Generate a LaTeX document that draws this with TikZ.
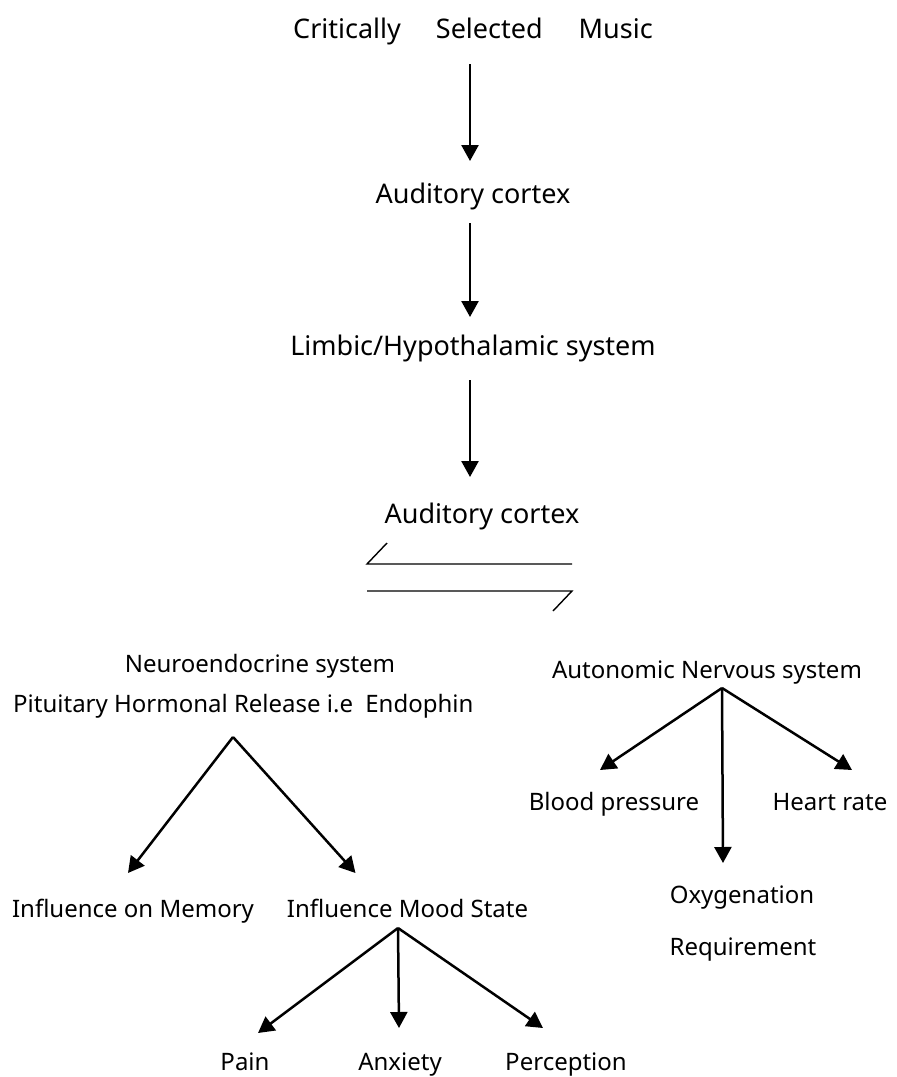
\documentclass[tikz,border=0pt]{standalone}
\usepackage{fontspec}
\setmainfont{Noto Sans}
\usetikzlibrary{arrows.meta,calc}
\tikzset{
  big/.style={inner sep=0pt, anchor=base, font=\fontsize{27}{30}\selectfont},
  small/.style={inner sep=0pt, anchor=base, font=\fontsize{24}{28}\selectfont},
  arr/.style={line width=2.5pt, -{Triangle[length=16pt,width=17pt]}},
  harp/.style={line width=1.4pt}
}
\begin{document}
\begin{tikzpicture}[x=1pt,y=-1pt]
\useasboundingbox (0,0) rectangle (897,1077);
% top chain
\node[big] (title) at (473,38) {Critically\hspace{35pt}Selected\hspace{36pt}Music};
\node[big] (cortexA) at (473,203) {Auditory cortex};
\node[big] (limbic) at (473,355) {Limbic/Hypothalamic system};
\node[big] (cortexB) at (482,523) {Auditory cortex};
\draw[arr] ($(title.base)+(-3,26)$) -- ($(cortexA.base)+(-3,-42)$);
\draw[arr] ($(cortexA.base)+(-3,20)$) -- ($(limbic.base)+(-3,-38)$);
\draw[arr] ($(limbic.base)+(-3,25)$) -- ($(cortexB.base)+(-12,-46)$);
% harpoons
\coordinate (hu1) at ($(cortexB.base)+(-95,20)$);
\coordinate (hu2) at ($(cortexB.base)+(-115,41)$);
\coordinate (hu3) at ($(cortexB.base)+(90,41)$);
\coordinate (hl1) at ($(cortexB.base)+(-115,68)$);
\coordinate (hl2) at ($(cortexB.base)+(90,68)$);
\coordinate (hl3) at ($(cortexB.base)+(71,88)$);
\draw[harp] (hu1) -- (hu2) -- (hu3);
\draw[harp] (hl1) -- (hl2) -- (hl3);
% left branch
\node[small] (neuro) at (260,672) {Neuroendocrine system};
\node[small, anchor=base west] (pit) at (13,712) {Pituitary Hormonal Release i.e\hspace{6pt} Endophin};
\node[small] (memory) at (133,917) {Influence on Memory};
\node[small] (mood) at (407.5,917) {Influence Mood State};
\coordinate (pitapex) at ($(pit.base west)+(220,25)$);
\draw[arr] (pitapex) -- ($(memory.base)+(-5,-44)$);
\draw[arr] (pitapex) -- ($(mood.base)+(-52,-44)$);
\node[small] (pain) at (245,1070) {Pain};
\node[small] (anx) at (400,1070) {Anxiety};
\node[small] (perc) at (566,1070) {Perception};
\coordinate (moodapex) at ($(mood.base)+(-9.5,11)$);
\draw[arr] (moodapex) -- ($(pain.base)+(13,-37)$);
\draw[arr] (moodapex) -- ($(anx.base)+(-1,-42)$);
\draw[arr] (moodapex) -- ($(perc.base)+(-23,-42)$);
% right branch
\node[small] (ans) at (707,678) {Autonomic Nervous system};
\node[small] (bp) at (614,810) {Blood pressure};
\node[small] (hr) at (830,810) {Heart rate};
\node[small] (oxy) at (742,903) {Oxygenation};
\node[small] (req) at (743,955) {Requirement};
\coordinate (ansapex) at ($(ans.base)+(15,10)$);
\draw[arr] (ansapex) -- ($(bp.base)+(-14,-40)$);
\draw[arr] (ansapex) -- ($(hr.base)+(22,-40)$);
\draw[arr] (ansapex) -- ($(oxy.base)+(-19,-40)$);
\end{tikzpicture}
\end{document}
